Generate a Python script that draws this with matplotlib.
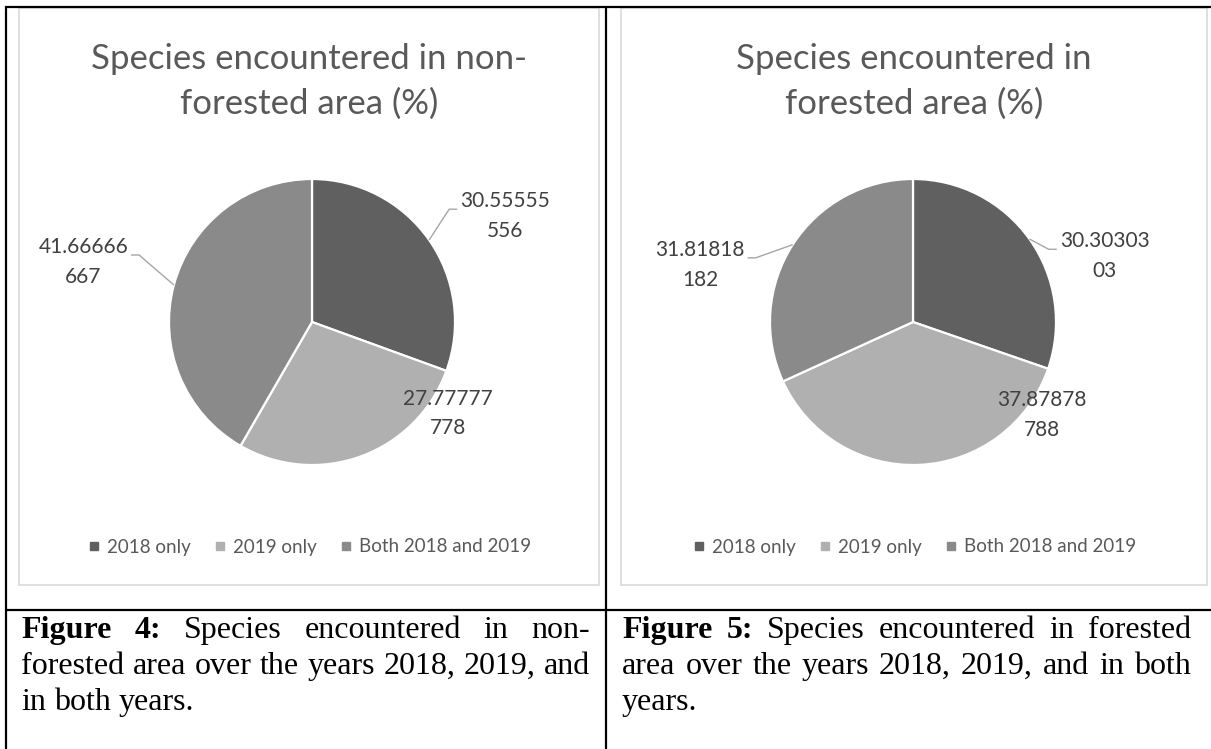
import matplotlib
matplotlib.use("Agg")
import matplotlib.pyplot as plt
from matplotlib.lines import Line2D
from matplotlib.patches import Rectangle
import numpy as np

# ---------------- data ----------------
categories = ["2018 only", "2019 only", "Both 2018 and 2019"]
nonforest_values = [30.55555556, 27.77777778, 41.66666667]
forest_values = [30.3030303, 37.87878788, 31.81818182]
nonforest_labels = ["30.55555\n556", "27.77777\n778", "41.66666\n667"]
forest_labels = ["30.30303\n03", "37.87878\n788", "31.81818\n182"]
titles = ["Species encountered in non-\nforested area (%)",
          "Species encountered in\nforested area (%)"]
caption_prefix = ["Figure 4:", "Figure 5:"]
captions = [
    ["Figure 4: Species encountered in non-",
     "forested area over the years 2018, 2019, and",
     "in both years."],
    ["Figure 5: Species encountered in forested",
     "area over the years 2018, 2019, and in both",
     "years."],
]
colors = ["#606060", "#B0B0B0", "#8A8A8A"]

# ---------------- layout ----------------
W, H, DPI = 1211, 749, 100
CHART_FONT = ["Lato", "DejaVu Sans"]
SERIF = ["Liberation Serif", "DejaVu Serif"]
R = 143.0
boxes = [(19, 8, 599, 585), (621, 8, 1207, 585)]
centers = [(312, 322), (913, 322)]
label_pos = [[(1.35, 0.74), (0.95, -0.64), (-1.60, 0.42)],
             [(1.34, 0.46), (0.90, -0.65), (-1.49, 0.40)]]
leader = [[True, False, True], [True, False, True]]
cap_x = [(21, 590), (622, 1191)]
cap_base = [638, 674, 710]

fig = plt.figure(figsize=(W / DPI, H / DPI), dpi=DPI)
fig.patch.set_facecolor("white")


def fx(x):
    return x / W


def fy(y):
    return 1 - y / H


# table lines
tbl = dict(color="black", lw=1.6, transform=fig.transFigure, solid_capstyle="butt")
fig.add_artist(Line2D([fx(5), fx(1211)], [fy(7), fy(7)], **tbl))
fig.add_artist(Line2D([fx(6), fx(6)], [fy(6), fy(749)], **tbl))
fig.add_artist(Line2D([fx(606), fx(606)], [fy(6), fy(749)], **tbl))
fig.add_artist(Line2D([fx(5), fx(1211)], [fy(610), fy(610)], **tbl))

renderer = fig.canvas.get_renderer()

all_values = [nonforest_values, forest_values]
all_labels = [nonforest_labels, forest_labels]

for i in range(2):
    bx0, by0, bx1, by1 = boxes[i]
    cx, cy = centers[i]
    fig.add_artist(Rectangle((fx(bx0), fy(by1)), (bx1 - bx0) / W, (by1 - by0) / H,
                             transform=fig.transFigure, fill=False,
                             edgecolor="#D9D9D9", lw=1.2))
    ax = fig.add_axes([fx(bx0), fy(by1), (bx1 - bx0) / W, (by1 - by0) / H])
    vals = all_values[i]
    ax.pie(vals, colors=colors, startangle=90, counterclock=False, radius=1,
           center=(0, 0), wedgeprops=dict(edgecolor="white", linewidth=1.6))
    ax.set_xlim((bx0 - cx) / R, (bx1 - cx) / R)
    ax.set_ylim((cy - by1) / R, (cy - by0) / R)
    ax.set_aspect("auto")
    ax.axis("off")

    # title
    bxc = (bx0 + bx1) / 2
    for k, line in enumerate(titles[i].split("\n")):
        fig.text(fx(bxc), fy(69 + 45 * k), line, ha="center", va="baseline",
                 fontsize=25, color="#595959", family=CHART_FONT)

    # labels
    total = sum(vals)
    start = 90.0
    for j, v in enumerate(vals):
        sweep = 360.0 * v / total
        mid = np.deg2rad(start - sweep / 2)
        start -= sweep
        dx, dy = label_pos[i][j]
        t = ax.text(dx, dy, all_labels[i][j], ha="center", va="center",
                    fontsize=15, color="#404040", family=CHART_FONT,
                    linespacing=1.6)
        if leader[i][j]:
            bb = t.get_window_extent(renderer)
            inv = ax.transData.inverted()
            ey_px = bb.y1 - bb.height * 0.36
            if dx > 0:
                ex_px = bb.x0 - 3
                elbow_px = ex_px - 8
            else:
                ex_px = bb.x1 + 3
                elbow_px = ex_px + 8
            ex, ey = inv.transform((ex_px, ey_px))
            elx, _ = inv.transform((elbow_px, ey_px))
            px, py = np.cos(mid), np.sin(mid)
            ax.plot([px, elx, ex], [py, ey, ey], color="#A6A6A6", lw=1.0,
                    solid_capstyle="butt")

    # legend
    handles = [Line2D([], [], marker="s", linestyle="none", markersize=6,
                      markerfacecolor=c, markeredgecolor=c) for c in colors]
    fig.legend(handles, categories, loc="center", ncol=3,
               bbox_to_anchor=(fx(bxc), fy(547)), frameon=False,
               prop=dict(family=CHART_FONT, size=13.5), labelcolor="#595959",
               handlelength=0.7, handletextpad=0.35, columnspacing=1.2,
               borderaxespad=0)

# captions (justified)
CAP_FS = 23
for i in range(2):
    x0, x1 = cap_x[i]
    nbold = len(caption_prefix[i].split())
    space_w = None
    for k, line in enumerate(captions[i]):
        words = line.split()
        texts = []
        widths = []
        for w_i, w in enumerate(words):
            bold = (k == 0 and w_i < nbold)
            t = fig.text(0, fy(cap_base[k]), w, ha="left", va="baseline",
                         fontsize=CAP_FS, family=SERIF,
                         fontweight="bold" if bold else "normal", color="black")
            texts.append(t)
            widths.append(t.get_window_extent(renderer).width)
        if space_w is None:
            ts = fig.text(0, 0, "a a", fontsize=CAP_FS, family=SERIF)
            ta = fig.text(0, 0, "aa", fontsize=CAP_FS, family=SERIF)
            space_w = ts.get_window_extent(renderer).width - ta.get_window_extent(renderer).width
            ts.remove()
            ta.remove()
        last = (k == len(captions[i]) - 1)
        if last or len(words) == 1:
            gap = space_w
        else:
            gap = ((x1 - x0) - sum(widths)) / (len(words) - 1)
        x = x0
        for t, w in zip(texts, widths):
            t.set_x(fx(x))
            x += w + gap

fig.savefig("out.png", dpi=DPI, facecolor="white")
